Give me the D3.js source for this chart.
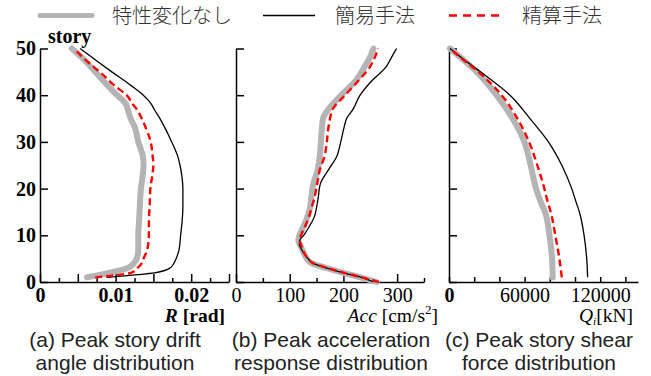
<!DOCTYPE html>
<html>
<head>
<meta charset="utf-8">
<script src="https://cdn.jsdelivr.net/npm/d3@7"></script>
<style>
body { margin: 0; background: #fff; }
svg { display: block; }
</style>
</head>
<body>
<svg id="chart" width="651" height="376"></svg>
<script>
// legend names
var seriesNames = ["特性変化なし", "簡易手法", "精算手法"];

// (a) peak story drift angle R [rad]
var storyA = [1, 2, 3, 4, 5, 7, 10, 13, 16, 20, 23, 25, 27, 30, 33, 35, 37, 38, 40, 42, 45, 47, 50];
var driftBase   = [0.0062, 0.0093, 0.0116, 0.0124, 0.0128, 0.0130, 0.0130, 0.0131, 0.0132, 0.01335, 0.0136, 0.0137, 0.0136, 0.0130, 0.01257, 0.0120, 0.0116, 0.0114, 0.0102, 0.0090, 0.0073, 0.0062, 0.0042];
var driftSimple = [0.0088, 0.0153, 0.0172, 0.0177, 0.0180, 0.0184, 0.0186, 0.0188, 0.0189, 0.0189, 0.01874, 0.01852, 0.0182, 0.01742, 0.01653, 0.01587, 0.0151, 0.01477, 0.01367, 0.0121, 0.0095, 0.0078, 0.0053];
var driftDetail = [0.0073, 0.0121, 0.0129, 0.01345, 0.0137, 0.0142, 0.0144, 0.0144, 0.0145, 0.0146, 0.01487, 0.0150, 0.0149, 0.01464, 0.0140, 0.01345, 0.0128, 0.0123, 0.01146, 0.0099, 0.0079, 0.0064, 0.0045];

// (b) peak acceleration Acc [cm/s2]
var storyB = [0, 1, 2, 3, 4, 5, 6, 7, 8, 9, 10, 12, 14, 16, 18, 21, 24, 27, 30, 33, 35, 37, 40, 43, 46, 48, 50];
var accBase   = [262, 232, 198, 168, 141, 132, 127, 123, 119, 116, 118, 126, 133, 138, 140, 144, 152, 156, 158, 160, 162, 172, 196, 222, 239, 249, 256];
var accSimple = [256, 234, 198, 168, 144, 134, 127, 122, 118, 119, 126, 137, 146, 150, 153, 157, 172, 188, 195, 201, 206, 218, 231, 252, 279, 289, 299];
var accDetail = [266, 234, 200, 170, 144, 134, 128, 124, 121, 118, 121, 129, 136, 141, 146, 151, 156, 165, 169, 172, 175, 180, 203, 227, 249, 258, 265];

// (c) peak story shear Qi [kN]
var storyC = [1, 5, 10, 15, 17, 20, 25, 30, 35, 40, 45, 48, 50];
var shearBase   = [82300, 81800, 79700, 76200, 73000, 69100, 64800, 59800, 50500, 37800, 22000, 9500, 800];
var shearSimple = [110000, 109300, 107200, 103500, 101000, 97400, 89500, 78900, 64300, 48400, 25000, 10000, 800];
var shearDetail = [89500, 87600, 84400, 80700, 78500, 75700, 70100, 63500, 54300, 41800, 23300, 9500, 800];

var storyTicks = [0, 10, 20, 30, 40, 50];

var svg = d3.select("#chart");
var serif = "'Liberation Serif', 'Times New Roman', serif";
var sans = "'Liberation Sans', Arial, sans-serif";

var y = d3.scaleLinear().domain([0, 50]).range([282, 48.5]);

var styles = [
    { stroke: "#b4b4b4", width: 6, dash: null },
    { stroke: "#000", width: 1.3, dash: null },
    { stroke: "#ff0000", width: 2.4, dash: "7,4" }
];

function drawPanel(opt)
{
    var x = d3.scaleLinear().domain(opt.domain).range(opt.range);
    var g = svg.append("g");

    // minor ticks
    if (opt.minor)
    {
        g.append("g")
            .attr("transform", "translate(0,282)")
            .call(d3.axisBottom(x).tickValues(opt.minor).tickSize(-4).tickSizeOuter(0).tickFormat(""))
            .call(function(a) { a.select(".domain").remove(); });
    }

    var xAxis = g.append("g")
        .attr("transform", "translate(0,282)")
        .call(d3.axisBottom(x).tickValues(opt.major).tickSize(-opt.majorLen).tickSizeOuter(0)
              .tickPadding(6).tickFormat(function(d) { return opt.labels.indexOf(d) >= 0 ? opt.fmt(d) : ""; }));
    xAxis.selectAll("text")
        .style("font-family", serif)
        .style("font-size", "20px")
        .style("font-weight", function(d) { return opt.bold(d) ? "bold" : "normal"; })
        .attr("fill", "#000");

    var yAxis = g.append("g")
        .attr("transform", "translate(" + opt.range[0] + ",0)")
        .call(d3.axisLeft(y).tickValues(storyTicks).tickSize(-8).tickSizeOuter(0).tickPadding(4)
              .tickFormat(opt.yLabels ? d3.format("d") : ""));
    yAxis.selectAll("text")
        .style("font-family", serif)
        .style("font-size", "20px")
        .style("font-weight", "bold")
        .attr("fill", "#000");

    g.selectAll(".domain, .tick line").attr("stroke", "#000").attr("stroke-width", 1.5);

    var line = d3.line()
        .x(function(d) { return x(d[1]); })
        .y(function(d) { return y(d[0]); })
        .curve(d3.curveMonotoneY);

    opt.series.forEach(function(vals, i)
    {
        var pts = opt.stories.map(function(s, k) { return [s, vals[k]]; });
        g.append("path")
            .datum(pts)
            .attr("d", line)
            .attr("fill", "none")
            .attr("stroke", styles[i].stroke)
            .attr("stroke-width", styles[i].width)
            .attr("stroke-linecap", i == 0 ? "round" : "butt")
            .attr("stroke-linejoin", "round")
            .attr("stroke-dasharray", styles[i].dash);
    });

    return g;
}

drawPanel({
    domain: [0, 0.025], range: [40, 229],
    major: d3.range(0, 0.0251, 0.005), majorLen: 8,
    minor: d3.range(0.0025, 0.025, 0.005),
    labels: [0, 0.01, 0.02],
    fmt: function(d) { return d == 0 ? "0" : d3.format(".2f")(d); },
    bold: function(d) { return true; },
    yLabels: true,
    stories: storyA, series: [driftBase, driftSimple, driftDetail]
});

drawPanel({
    domain: [0, 350], range: [236, 424],
    major: d3.range(0, 351, 100), majorLen: 8,
    minor: d3.range(50, 351, 100),
    labels: [0, 100, 200, 300],
    fmt: d3.format("d"),
    bold: function(d) { return false; },
    yLabels: false,
    stories: storyB, series: [accBase, accSimple, accDetail]
});

drawPanel({
    domain: [0, 150000], range: [449, 638],
    major: d3.range(0, 150001, 20000), majorLen: 5,
    minor: null,
    labels: [0, 60000, 120000],
    fmt: d3.format("d"),
    bold: function(d) { return d == 0; },
    yLabels: false,
    stories: storyC, series: [shearBase, shearSimple, shearDetail]
});

// "story" label
svg.append("text")
    .attr("x", 48).attr("y", 43)
    .style("font-family", serif).style("font-size", "20px").style("font-weight", "bold")
    .text("story");

// axis titles
var tR = svg.append("text")
    .attr("x", 225).attr("y", 322).attr("text-anchor", "end")
    .style("font-family", serif).style("font-size", "19.5px").style("font-weight", "bold");
tR.append("tspan").style("font-style", "italic").text("R");
tR.append("tspan").text(" [rad]");

var tAcc = svg.append("text")
    .attr("x", 438).attr("y", 322).attr("text-anchor", "end")
    .style("font-family", serif).style("font-size", "19.5px");
tAcc.append("tspan").style("font-style", "italic").text("Acc");
tAcc.append("tspan").text(" [cm/s");
tAcc.append("tspan").attr("dy", -8).style("font-size", "13px").text("2");
tAcc.append("tspan").attr("dy", 8).text("]");

var tQ = svg.append("text")
    .attr("x", 633).attr("y", 322).attr("text-anchor", "end")
    .style("font-family", serif).style("font-size", "19.5px");
tQ.append("tspan").style("font-style", "italic").text("Q");
tQ.append("tspan").attr("dy", 3).style("font-style", "italic").style("font-size", "11px").text("i");
tQ.append("tspan").attr("dy", -3).text("[kN]");

// legend
var legendX = [[40, 92, 112], [263, 315, 335], [449, 502, 522]];
var legend = svg.append("g");
seriesNames.forEach(function(name, i)
{
    legend.append("line")
        .attr("x1", legendX[i][0]).attr("x2", legendX[i][1])
        .attr("y1", 15.5).attr("y2", 15.5)
        .attr("stroke", styles[i].stroke)
        .attr("stroke-width", i == 0 ? 5 : (i == 1 ? 1.5 : 2.4))
        .attr("stroke-linecap", i == 0 ? "round" : "butt")
        .attr("stroke-dasharray", i == 2 ? "8,6" : null);
    legend.append("text")
        .attr("x", legendX[i][2]).attr("y", 23)
        .style("font-family", "'Noto Sans CJK JP', sans-serif")
        .style("font-size", "20px")
        .style("font-weight", 300)
        .attr("fill", "#333")
        .text(name);
});

// captions
var captions = [
    { x: 115, lines: ["(a) Peak story drift", "angle distribution"] },
    { x: 331, lines: ["(b) Peak acceleration", "response distribution"] },
    { x: 539, lines: ["(c) Peak story shear", "force distribution"] }
];
captions.forEach(function(c)
{
    c.lines.forEach(function(t, j)
    {
        svg.append("text")
            .attr("x", c.x).attr("y", 347 + j * 23)
            .attr("text-anchor", "middle")
            .style("font-family", sans).style("font-size", "21px")
            .attr("fill", "#222")
            .text(t);
    });
});
</script>
</body>
</html>
